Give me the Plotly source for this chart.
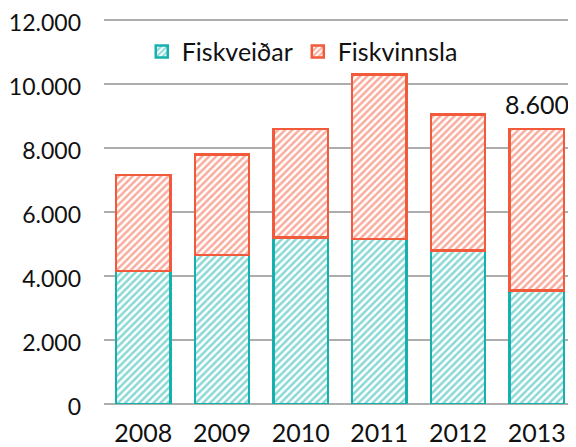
import plotly.graph_objects as go

years = ["2008", "2009", "2010", "2011", "2012", "2013"]
fiskveidar = [4150, 4650, 5200, 5150, 4800, 3550]
fiskvinnsla = [3000, 3150, 3400, 5150, 4250, 5050]
total_label = "8.600"

teal = "#16B1AD"
orange = "#F15A3B"

fig = go.Figure()
fig.add_trace(go.Bar(
    x=years, y=fiskveidar, name="Fiskveiðar",
    marker=dict(color="white", line=dict(color=teal, width=2.5),
                pattern=dict(shape="/", fgcolor=teal, bgcolor="white", size=5, solidity=0.5)),
))
fig.add_trace(go.Bar(
    x=years, y=fiskvinnsla, name="Fiskvinnsla",
    marker=dict(color="white", line=dict(color=orange, width=2.5),
                pattern=dict(shape="/", fgcolor=orange, bgcolor="white", size=5, solidity=0.5)),
))

tot2013 = fiskveidar[-1] + fiskvinnsla[-1]
fig.add_annotation(x=len(years) - 1, y=tot2013, xref="x", yref="y", text=total_label,
                   showarrow=False, yanchor="bottom", yshift=8,
                   font=dict(size=25, color="#111"))

fig.update_layout(
    width=568, height=439,
    barmode="stack", bargap=0.31,
    separators=",.",
    paper_bgcolor="white", plot_bgcolor="white",
    margin=dict(l=96, r=0, t=6, b=43),
    font=dict(family="Lato", size=25, color="#111"),
    showlegend=True,
    legend=dict(orientation="h", x=0.42, xanchor="center", y=0.903, yanchor="middle",
                font=dict(size=25), bgcolor="rgba(0,0,0,0)",
                traceorder="normal"),
    xaxis=dict(type="category", range=[-0.5, 5.5], showgrid=False, showline=False,
               ticks="", ticklabelstandoff=12, automargin=False),
    yaxis=dict(range=[0, 12187.5], tickvals=[0, 2000, 4000, 6000, 8000, 10000, 12000],
               tickformat=",d", showgrid=True, ticklabeloverflow="allow", automargin=False,
               tickfont=dict(size=23), ticklabelshift=3,
               gridcolor="#ADADAD", gridwidth=2, zeroline=True, zerolinecolor="#ADADAD",
               zerolinewidth=2, showline=False, ticks="", ticklabelstandoff=22),
)

fig.write_html("out.html")
